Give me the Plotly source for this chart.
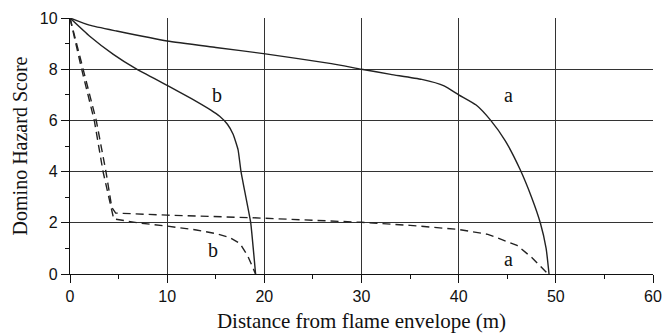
import plotly.graph_objects as go

# Solid curve a
sa_x = [0, 2, 4.8, 10, 15, 20.1, 26.9, 30, 33, 36.2, 38.5, 40, 41.8, 43.3, 44.8, 46.3, 47.5, 48.4, 49.0, 49.3]
sa_y = [10, 9.72, 9.49, 9.1, 8.85, 8.6, 8.22, 8.0, 7.8, 7.6, 7.35, 7.0, 6.6, 6.0, 5.2, 4.1, 3.0, 2.0, 1.0, 0]
# Solid curve b
sb_x = [0, 2, 4.46, 6.86, 10.05, 12.5, 14.5, 15.4, 16.2, 16.8, 17.3, 17.6, 18.1, 18.6, 19.1]
sb_y = [10, 9.3, 8.58, 8.0, 7.36, 6.85, 6.4, 6.16, 5.85, 5.45, 4.85, 4.0, 3.0, 2.0, 0]
# Dashed curve a
da_x = [0, 1.35, 2.7, 3.7, 4.3, 4.7, 10, 18.6, 26.9, 30, 35, 40, 43, 46, 47.5, 49.2]
da_y = [10, 8, 6, 4, 2.6, 2.38, 2.3, 2.2, 2.06, 2.02, 1.9, 1.74, 1.55, 1.12, 0.65, 0]
# Dashed curve b
db_x = [0, 1.2, 2.5, 3.4, 4.5, 7, 10, 13, 15.1, 16.46, 17.5, 18.3, 19.1]
db_y = [10, 8, 6, 4, 2.15, 2.0, 1.87, 1.72, 1.57, 1.42, 1.19, 0.7, 0]

# Curve labels
lab_text = ["b", "a", "b", "a"]
lab_x = [15.1, 45.1, 14.7, 45.1]
lab_y = [7.0, 7.0, 0.92, 0.59]

line_col = "#222222"

fig = go.Figure()
fig.add_trace(go.Scatter(x=sa_x, y=sa_y, mode="lines", line=dict(color=line_col, width=1.4, shape="spline", smoothing=0.5)))
fig.add_trace(go.Scatter(x=sb_x, y=sb_y, mode="lines", line=dict(color=line_col, width=1.4, shape="spline", smoothing=0.35)))
fig.add_trace(go.Scatter(x=da_x, y=da_y, mode="lines", line=dict(color=line_col, width=1.4, dash="8px,5px")))
fig.add_trace(go.Scatter(x=db_x, y=db_y, mode="lines", line=dict(color=line_col, width=1.4, dash="8px,5px")))

for t, x, y in zip(lab_text, lab_x, lab_y):
    fig.add_annotation(x=x, y=y, text=t, showarrow=False,
                       font=dict(family="Liberation Serif", size=20, color="#111111"))

fig.update_layout(
    width=664, height=334,
    margin=dict(l=70, r=11, t=18, b=60),
    paper_bgcolor="white", plot_bgcolor="white",
    showlegend=False,
    font=dict(family="Liberation Sans", size=16, color="#111111"),
)
fig.update_xaxes(
    range=[0, 60], dtick=10, tick0=0, automargin=False,
    showgrid=True, gridcolor="#333333", gridwidth=1.3,
    showline=True, linecolor="#111111", linewidth=1.3,
    ticks="outside", ticklen=8, tickcolor="#111111", tickwidth=1.2,
    minor=dict(dtick=5, ticks="outside", ticklen=4, tickcolor="#111111", showgrid=False),
    zeroline=False,
    title=dict(text="Distance from flame envelope (m)", font=dict(family="Liberation Serif", size=21), standoff=8),
    tickfont=dict(family="Liberation Sans", size=16),
)
fig.update_yaxes(
    range=[0, 10], dtick=2, tick0=0, automargin=False,
    showgrid=True, gridcolor="#333333", gridwidth=1.3,
    showline=True, linecolor="#111111", linewidth=1.3,
    ticks="outside", ticklen=8, tickcolor="#111111", tickwidth=1.2,
    minor=dict(dtick=1, ticks="outside", ticklen=4, tickcolor="#111111", showgrid=False),
    zeroline=False,
    title=dict(text="Domino Hazard Score", font=dict(family="Liberation Serif", size=20), standoff=6),
    tickfont=dict(family="Liberation Sans", size=16),
)

fig.write_html("out.html", config={"displayModeBar": False},
               post_script="document.body.style.margin='0';document.body.style.overflow='hidden';")
